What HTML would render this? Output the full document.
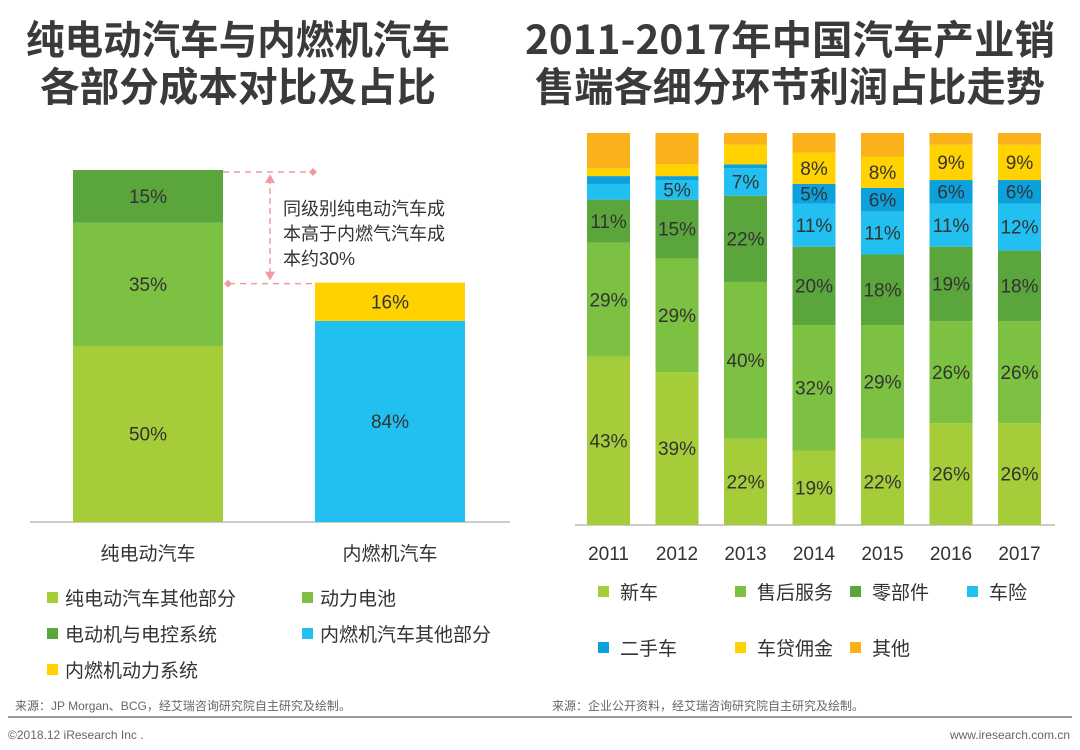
<!DOCTYPE html>
<html><head><meta charset="utf-8"><style>
body{margin:0;background:#fff;}
svg{display:block;font-family:"Liberation Sans","Noto Sans CJK SC",sans-serif;}
</style></head><body>
<svg id="page" width="1080" height="750" viewBox="0 0 1080 750">
<g font-size="40" font-weight="bold" fill="#3a3a3a" text-anchor="middle" font-family="Noto Sans CJK SC,sans-serif">
<text x="238" y="54" textLength="424" lengthAdjust="spacingAndGlyphs">纯电动汽车与内燃机汽车</text>
<text x="238" y="101" textLength="396" lengthAdjust="spacingAndGlyphs">各部分成本对比及占比</text>
</g>
<g font-size="40" font-weight="bold" fill="#3a3a3a" text-anchor="middle" font-family="Noto Sans CJK SC,sans-serif">
<text x="790" y="54" textLength="530" lengthAdjust="spacingAndGlyphs">2011-2017年中国汽车产业销</text>
<text x="790" y="101" textLength="510" lengthAdjust="spacingAndGlyphs">售端各细分环节利润占比走势</text>
</g>
<g id="left"></g>
<g id="right"></g>
<g font-size="12" fill="#666">
<text x="15" y="710">来源：JP Morgan、BCG，经艾瑞咨询研究院自主研究及绘制。</text>
<text x="552" y="710">来源：企业公开资料，经艾瑞咨询研究院自主研究及绘制。</text>
<rect x="8" y="716" width="1064" height="2" fill="#999"/>
<text x="8" y="739">©2018.12 iResearch Inc .</text>
<text x="1070" y="739" text-anchor="end">www.iresearch.com.cn</text>
</g>
</svg>
<script>
const NS='http://www.w3.org/2000/svg';
function mk(p,t,a){const e=document.createElementNS(NS,t);for(const k in a)e.setAttribute(k,a[k]);p.appendChild(e);return e;}
// left chart data
const leftCats=['纯电动汽车','内燃机汽车'];
const leftTotals=[100,68];
const leftSeriesNames=['纯电动汽车其他部分','动力电池','电动机与电控系统','内燃机汽车其他部分','内燃机动力系统'];
const leftColors=['#a5cd39','#7cc142','#5aa53c','#21c0f0','#ffd200'];
const evShares=[50,35,15];
const iceShares=[84,16];
// right chart data
const years=['2011','2012','2013','2014','2015','2016','2017'];
const rNames=['新车','售后服务','零部件','车险','二手车','车贷佣金','其他'];
const rColors=['#a5cd39','#7cc142','#5aa53c','#21c0f0','#0ca0dd','#ffd200','#f9b21a'];
const sNew=[43,39,22,19,22,26,26];
const sAfter=[29,29,40,32,29,26,26];
const sParts=[11,15,22,20,18,19,18];
const sIns=[4,5,7,11,11,11,12];
const sUsed=[2,1,1,5,6,6,6];
const sLoan=[2,3,5,8,8,9,9];
const sOther=[9,8,3,5,6,3,3];
const labelMin=4;
const hideLabels={3:[0],4:[0,1,2],5:[0,1,2],6:[0,1,2,3,4,5,6]};

const L=document.getElementById('left');
const lBase=522, lScale=352/100;
const lx=i=>73+i*242, lw=150;
mk(L,'line',{x1:30,y1:lBase,x2:510,y2:lBase,stroke:'#999','stroke-width':1,});
function stack(parent,x,w,base,vals,cols,scale,labels,names,fs,hide){
  let y=base;
  vals.forEach((v,j)=>{const h=v*scale;y-=h;
    const r=mk(parent,'rect',{x:x,y:y,width:w,height:h,fill:cols[j]});
    
    
    if(labels&&!(hide&&hide(j))){const t=mk(parent,'text',{x:x+w/2,y:y+h/2+fs*0.35,'text-anchor':'middle','font-size':fs,fill:'#333'});t.textContent=v+'%';
      
      }
  });
}
const evTot=leftTotals[0]*lScale, iceTot=leftTotals[1]*lScale;
stack(L,lx(0),lw,lBase,evShares,leftColors.slice(0,3),evTot/100,true,['ev-other','battery','motor-control'],19);
stack(L,lx(1),lw,lBase,iceShares,leftColors.slice(3),iceTot/100,true,['ice-other','ice-power'],19);
leftCats.forEach((c,i)=>{const t=mk(L,'text',{x:lx(i)+lw/2,y:560,'text-anchor':'middle','font-size':19,fill:'#333'});t.textContent=c;
  
  });
// annotation
const yTop=lBase-evTot, yIce=lBase-iceTot;
const ann=mk(L,'g',{});
mk(ann,'line',{x1:223,y1:yTop+2,x2:312,y2:yTop+2,stroke:'#ef9aa5','stroke-dasharray':'6,5','stroke-width':1.5});
mk(ann,'line',{x1:229,y1:yIce+1,x2:315,y2:yIce+1,stroke:'#ef9aa5','stroke-dasharray':'6,5','stroke-width':1.5});
mk(ann,'path',{d:`M313 ${yTop-2} l4 4 -4 4 -4 -4z M228 ${yIce-3} l4 4 -4 4 -4 -4z`,fill:'#ef9aa5'});
mk(ann,'line',{x1:270,y1:yTop+8,x2:270,y2:yIce-6,stroke:'#ef9aa5','stroke-dasharray':'6,4','stroke-width':1.5});
mk(ann,'path',{d:`M270 ${yTop+4} l-5 9 h10z M270 ${yIce-2} l-5 -9 h10z`,fill:'#ef9aa5'});
['同级别纯电动汽车成','本高于内燃气汽车成','本约30%'].forEach((s,i)=>{const t=mk(ann,'text',{x:283,y:215+i*25,'font-size':18,fill:'#333'});t.textContent=s;});
// left legend
const lleg=[[47,598],[302,598],[47,634],[302,634],[47,670]];
leftSeriesNames.forEach((n,i)=>{const g=mk(L,'g',{});
  
  
  mk(g,'rect',{x:lleg[i][0],y:lleg[i][1]-6,width:11,height:11,fill:leftColors[i]});
  const t=mk(g,'text',{x:lleg[i][0]+18,y:lleg[i][1]+7,'font-size':19,fill:'#333'});t.textContent=n;});

// right chart
const R=document.getElementById('right');
const rBase=525, rTop=133, rScale=(rBase-rTop)/100;
const rx=i=>587+i*68.5, rw=43;
mk(R,'line',{x1:575,y1:rBase,x2:1055,y2:rBase,stroke:'#999','stroke-width':1,});
const series=[sNew,sAfter,sParts,sIns,sUsed,sLoan,sOther];
years.forEach((yr,i)=>{
  const vals=series.map(s=>s[i]);
  const g=mk(R,'g',{});
  
  
  const sum=vals.reduce((a,b)=>a+b,0);
  stack(g,rx(i),rw,rBase,vals,rColors,(rBase-rTop)/sum,true,['new-car','after-sales','parts','insurance','used-car','loan','other'],19,j=>vals[j]<labelMin||(hideLabels[j]&&hideLabels[j].includes(i)));
  const t=mk(R,'text',{x:rx(i)+rw/2,y:560,'text-anchor':'middle','font-size':19,fill:'#333'});t.textContent=yr;
  
  
});
const rleg=[[598,592],[735,592],[850,592],[967,592],[598,648],[735,648],[850,648]];
rNames.forEach((n,i)=>{const g=mk(R,'g',{});
  
  
  mk(g,'rect',{x:rleg[i][0],y:rleg[i][1]-6,width:11,height:11,fill:rColors[i]});
  const t=mk(g,'text',{x:rleg[i][0]+22,y:rleg[i][1]+7,'font-size':19,fill:'#333'});t.textContent=n;});
</script>
</body></html>
